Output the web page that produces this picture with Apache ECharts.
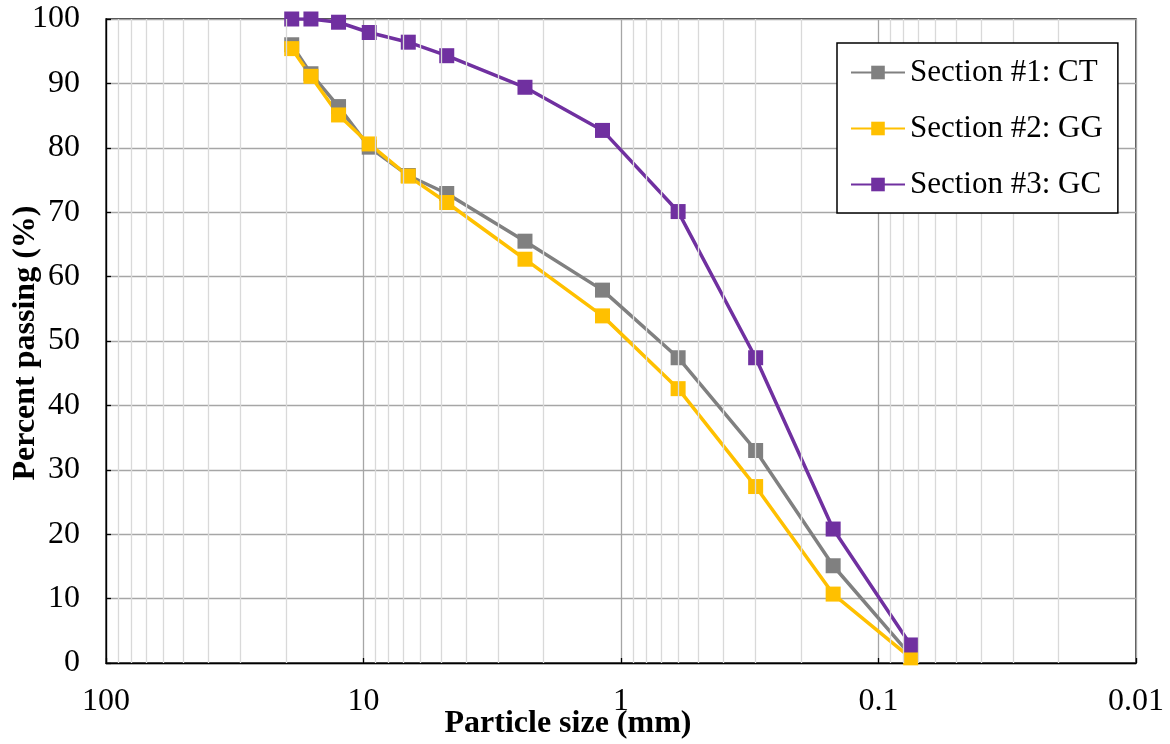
<!DOCTYPE html>
<html>
<head>
<meta charset="utf-8">
<script src="https://cdn.jsdelivr.net/npm/echarts@6/dist/echarts.min.js"></script>
<style>
html,body{margin:0;padding:0;background:#fff;}
#chart{width:1170px;height:744px;}
</style>
</head>
<body>
<div id="chart"></div>
<script>
// Particle sizes (mm)
const sizes = [19, 16, 12.5, 9.5, 6.7, 4.75, 2.36, 1.18, 0.6, 0.3, 0.15, 0.075];
// Percent passing
const section1CT = [96.0, 91.5, 86.4, 80.1, 75.7, 72.9, 65.5, 57.9, 47.4, 33.0, 15.1, 1.2];
const section2GG = [95.4, 91.1, 85.1, 80.6, 75.6, 71.5, 62.7, 53.9, 42.6, 27.4, 10.7, 0.8];
const section3GC = [100, 100, 99.5, 97.9, 96.4, 94.3, 89.4, 82.7, 70.1, 47.4, 20.8, 2.8];
const seriesNames = ['Section #1: CT', 'Section #2: GG', 'Section #3: GC'];
const xTickLabels = ['100', '10', '1', '0.1', '0.01'];
const minorGridValues = [90, 80, 70, 60, 50, 40, 30, 20,
  9, 8, 7, 6, 5, 4, 3, 2,
  0.9, 0.8, 0.7, 0.6, 0.5, 0.4, 0.3, 0.2,
  0.09, 0.08, 0.07, 0.06, 0.05, 0.04, 0.03, 0.02];

const FONT = 'Liberation Serif';
const colors = ['#808080', '#FFC000', '#7030A0'];

function pairs(ys) { return sizes.map((s, i) => [s, ys[i]]); }

function lineSeries(name, ys, color) {
  return {
    name: name, type: 'line', data: pairs(ys),
    symbol: 'rect', symbolSize: 15,
    lineStyle: { color: color, width: 3.5 },
    itemStyle: { color: color },
    z: 3
  };
}

const chart = echarts.init(document.getElementById('chart'), null, { renderer: 'canvas' });
chart.setOption({
  animation: false,
  backgroundColor: '#fff',
  grid: { left: 106, right: 34, top: 19, bottom: 81, show: true, borderColor: '#000', borderWidth: 1.3, backgroundColor: 'transparent' },
  legend: {
    data: seriesNames,
    orient: 'vertical',
    left: 837, top: 43,
    itemWidth: 54, itemHeight: 17, itemGap: 25,
    padding: [14, 15, 13, 13],
    borderColor: '#000', borderWidth: 1.5,
    backgroundColor: '#fff',
    textStyle: { fontFamily: FONT, fontSize: 31, color: '#000' },
    z: 10
  },
  xAxis: {
    type: 'log', logBase: 10, min: 0.01, max: 100, inverse: true,
    axisLine: { show: true, lineStyle: { color: '#000', width: 1.3 } },
    axisTick: { show: true, inside: true, length: 5, lineStyle: { color: '#000', width: 1.3 } },
    axisLabel: {
      fontFamily: FONT, fontSize: 32, color: '#000', margin: 23,
      showMinLabel: true, showMaxLabel: true,
      formatter: function (v) {
        const e = Math.round(Math.log10(v));
        return xTickLabels[2 - e] !== undefined ? xTickLabels[2 - e] : String(v);
      }
    },
    splitLine: { show: true, lineStyle: { color: '#a6a6a6', width: 1.3 } },
    minorTick: { show: false }
  },
  yAxis: {
    type: 'value', min: 0, max: 100, interval: 10,
    axisLine: { show: true, lineStyle: { color: '#000', width: 1.3 } },
    axisTick: { show: true, inside: true, length: 5, lineStyle: { color: '#000', width: 1.3 } },
    axisLabel: { fontFamily: FONT, fontSize: 32, color: '#000', margin: 26 },
    splitLine: { show: true, lineStyle: { color: '#a6a6a6', width: 1.3 } }
  },
  graphic: [
    {
      type: 'text', x: 568, y: 724, z: 10,
      style: { text: 'Particle size (mm)', font: 'bold 32px "Liberation Serif"', fill: '#000', textAlign: 'center', textVerticalAlign: 'middle' }
    },
    {
      type: 'text', x: 26, y: 343, rotation: Math.PI / 2, z: 10,
      style: { text: 'Percent passing (%)', font: 'bold 32px "Liberation Serif"', fill: '#000', textAlign: 'center', textVerticalAlign: 'middle' }
    }
  ],
  series: [
    {
      name: 'minor-grid', type: 'line', data: [], z: 1, silent: true,
      markLine: {
        silent: true, symbol: ['none', 'none'], label: { show: false },
        lineStyle: { color: '#d9d9d9', width: 1.3, type: 'solid' },
        emphasis: { disabled: true },
        data: minorGridValues.map(v => ({ xAxis: v }))
      }
    },
    lineSeries(seriesNames[0], section1CT, colors[0]),
    lineSeries(seriesNames[1], section2GG, colors[1]),
    lineSeries(seriesNames[2], section3GC, colors[2])
  ]
});
</script>
</body>
</html>
